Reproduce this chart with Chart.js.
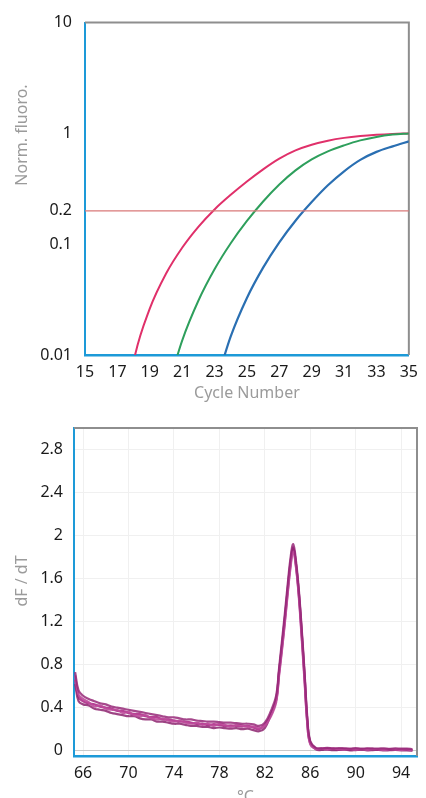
<!DOCTYPE html>
<html lang="en">
<head>
<meta charset="UTF-8">
<title>Amplification and melt curves</title>
<script src="https://cdn.jsdelivr.net/npm/chart.js"></script>
<style>
    html, body { margin: 0; padding: 0; background: #fff; overflow: hidden; }
    .chart-box { position: absolute; left: 0; width: 426px; }
    #ampBox { top: 0; height: 405px; }
    #meltBox { top: 405px; height: 410px; }
</style>
</head>
<body>
<div class="chart-box" id="ampBox"><canvas id="ampChart"></canvas></div>
<div class="chart-box" id="meltBox"><canvas id="meltChart"></canvas></div>
<script>
// --- amplification plot data ---
const cycles      = [17, 18, 19, 20, 21, 22, 23, 24, 25, 26, 27, 28, 29, 30, 31, 32, 33, 34, 35];
const sampleRed   = [0.001, 0.0087, 0.0262, 0.0541, 0.0929, 0.1435, 0.206, 0.279, 0.368, 0.474, 0.592, 0.703, 0.791, 0.859, 0.911, 0.948, 0.973, 0.990, 1.0];
const sampleGreen = [null, null, null, 0.0044, 0.0135, 0.0309, 0.0594, 0.102, 0.162, 0.243, 0.346, 0.464, 0.583, 0.689, 0.780, 0.865, 0.930, 0.975, 1.0];
const sampleBlue  = [null, null, null, null, null, null, 0.0050, 0.0147, 0.0327, 0.0614, 0.104, 0.163, 0.240, 0.340, 0.455, 0.577, 0.681, 0.764, 0.847];
const threshold   = 0.2;
const cycleTicks  = [15, 17, 19, 21, 23, 25, 27, 29, 31, 33, 35];
const fluoroTicks = [0.01, 0.1, 0.2, 1, 10];

// --- melt curve data ---
const temps = [65.3, 65.6, 66, 66.5, 67, 67.5, 68, 68.5, 69, 69.5, 70, 70.5, 71, 71.5, 72, 72.5, 73, 73.5, 74, 74.5,
    75, 75.5, 76, 76.5, 77, 77.5, 78, 78.5, 79, 79.5, 80, 80.5, 81, 81.5, 82, 82.5, 83, 83.25, 83.5, 83.75,
    84, 84.25, 84.5, 84.75, 85, 85.25, 85.5, 85.75, 86, 86.5, 87, 87.5, 88, 88.5, 89, 89.5, 90, 90.5, 91, 91.5,
    92, 92.5, 93, 93.5, 94, 94.5, 95];
const meltA = [0.66, 0.50, 0.46, 0.44, 0.43, 0.41, 0.40, 0.39, 0.37, 0.37, 0.35, 0.34, 0.34, 0.32, 0.31, 0.31, 0.29, 0.29, 0.28, 0.27,
    0.27, 0.26, 0.25, 0.25, 0.24, 0.245, 0.24, 0.23, 0.235, 0.23, 0.225, 0.23, 0.215, 0.20, 0.24, 0.33, 0.47, 0.72, 0.95, 1.2,
    1.47, 1.72, 1.88, 1.72, 1.45, 1.08, 0.68, 0.26, 0.07, 0.02, 0.015, 0.02, 0.015, 0.01, 0.015, 0.01, 0.012, 0.01, 0.015, 0.01,
    0.008, 0.012, 0.01, 0.008, 0.012, 0.01, 0.005];
const meltB = [0.70, 0.52, 0.48, 0.45, 0.41, 0.42, 0.39, 0.38, 0.38, 0.35, 0.36, 0.33, 0.32, 0.33, 0.30, 0.29, 0.30, 0.28, 0.27, 0.28,
    0.26, 0.25, 0.26, 0.24, 0.25, 0.23, 0.25, 0.24, 0.22, 0.24, 0.235, 0.22, 0.225, 0.21, 0.23, 0.31, 0.45, 0.69, 0.92, 1.17,
    1.44, 1.69, 1.85, 1.70, 1.42, 1.04, 0.64, 0.24, 0.06, 0.015, 0.02, 0.012, 0.018, 0.014, 0.01, 0.015, 0.008, 0.013, 0.01, 0.014,
    0.012, 0.007, 0.013, 0.01, 0.006, 0.012, 0.004];
const meltC = [0.62, 0.46, 0.43, 0.42, 0.39, 0.38, 0.37, 0.35, 0.34, 0.33, 0.32, 0.32, 0.30, 0.29, 0.29, 0.27, 0.27, 0.26, 0.25, 0.25,
    0.24, 0.23, 0.23, 0.22, 0.22, 0.21, 0.215, 0.21, 0.205, 0.21, 0.20, 0.205, 0.19, 0.18, 0.21, 0.33, 0.48, 0.73, 0.97, 1.22,
    1.49, 1.74, 1.89, 1.73, 1.46, 1.10, 0.70, 0.27, 0.08, 0.012, 0.006, 0.01, 0.004, 0.006, 0.009, 0.002, 0.005, 0.008, 0.003, 0.004,
    0.007, 0.002, 0.004, 0.006, 0.003, 0.002, 0.0];
const meltD = [0.73, 0.56, 0.51, 0.48, 0.46, 0.44, 0.43, 0.41, 0.40, 0.39, 0.38, 0.37, 0.36, 0.35, 0.34, 0.33, 0.32, 0.31, 0.31, 0.30,
    0.29, 0.29, 0.28, 0.275, 0.27, 0.27, 0.265, 0.26, 0.26, 0.255, 0.25, 0.25, 0.245, 0.23, 0.26, 0.36, 0.51, 0.76, 1.01, 1.26,
    1.53, 1.78, 1.92, 1.76, 1.49, 1.13, 0.73, 0.30, 0.09, 0.026, 0.022, 0.026, 0.02, 0.024, 0.021, 0.019, 0.023, 0.018, 0.022, 0.02,
    0.019, 0.021, 0.017, 0.02, 0.018, 0.019, 0.014];
const tempTicks = [66, 70, 74, 78, 82, 86, 90, 94];
const dfdtTicks = [0, 0.4, 0.8, 1.2, 1.6, 2, 2.4, 2.8];

const FONT = '"Noto Sans", sans-serif';
const AXIS_BLUE = '#1d9ad8';
const TITLE_GREY = '#9b9b9b';

function pts(xs, ys) {
    return xs.map((x, i) => ({ x: x, y: ys[i] }));
}

// vertical y-axis title, drawn where the original has it
const sideTitle = {
    id: 'sideTitle',
    afterDraw(chart, args, opts) {
        const ctx = chart.ctx;
        ctx.save();
        ctx.translate(opts.x, opts.y);
        ctx.rotate(-Math.PI / 2);
        ctx.font = '16px ' + FONT;
        ctx.fillStyle = TITLE_GREY;
        ctx.textAlign = 'center';
        ctx.textBaseline = 'middle';
        ctx.fillText(opts.text, 0, 0);
        ctx.restore();
    }
};

// grey top / right edges of the plot box
const frame = {
    id: 'frame',
    beforeDatasetsDraw(chart) {
        const { ctx, chartArea: a } = chart;
        ctx.save();
        ctx.strokeStyle = '#8e8e8e';
        ctx.lineWidth = 2;
        ctx.beginPath();
        ctx.moveTo(a.left, a.top);
        ctx.lineTo(a.right, a.top);
        ctx.lineTo(a.right, a.bottom);
        ctx.stroke();
        ctx.restore();
    }
};

const tickFont = { family: FONT, size: 16 };

function lineSet(data, color, width, smooth) {
    return {
        data: data,
        borderColor: color,
        borderWidth: width,
        pointRadius: 0,
        fill: false,
        cubicInterpolationMode: smooth ? 'monotone' : 'default',
        tension: 0.4
    };
}

new Chart(document.getElementById('ampChart'), {
    type: 'line',
    data: {
        datasets: [
            { data: [{ x: 15, y: threshold }, { x: 35, y: threshold }], borderColor: '#d97878', borderWidth: 1.3, pointRadius: 0 },
            lineSet(pts(cycles, sampleBlue), '#2a6fb2', 2.2, true),
            lineSet(pts(cycles, sampleGreen), '#2e9f5c', 2, true),
            lineSet(pts(cycles, sampleRed), '#e0306a', 2, true)
        ]
    },
    options: {
        responsive: true,
        maintainAspectRatio: false,
        animation: false,
        layout: { padding: { top: 22, right: 8, left: 0, bottom: 0 } },
        plugins: {
            legend: { display: false },
            tooltip: { enabled: false },
            sideTitle: { text: 'Norm. fluoro.', x: 22, y: 135 }
        },
        scales: {
            x: {
                type: 'linear',
                min: 15, max: 35,
                afterBuildTicks: s => { s.ticks = cycleTicks.map(v => ({ value: v })); },
                afterFit: s => { s.height = 50; },
                grid: { display: false, drawTicks: false },
                border: { color: AXIS_BLUE, width: 2.5 },
                ticks: { color: '#1a1a1a', font: tickFont, padding: 8, maxRotation: 0 },
                title: { display: true, text: 'Cycle Number', color: TITLE_GREY, font: { family: FONT, size: 16 }, padding: { top: 0, bottom: 2 } }
            },
            y: {
                type: 'logarithmic',
                min: 0.01, max: 10,
                afterBuildTicks: s => { s.ticks = fluoroTicks.map(v => ({ value: v })); },
                afterFit: s => { s.width = 85; },
                grid: { display: false, drawTicks: false },
                border: { color: AXIS_BLUE, width: 2 },
                ticks: { color: '#1a1a1a', font: tickFont, padding: 13, callback: v => String(v) }
            }
        }
    },
    plugins: [frame, sideTitle]
});

new Chart(document.getElementById('meltChart'), {
    type: 'line',
    data: {
        datasets: [
            lineSet(pts(temps, meltD), 'rgba(150, 40, 120, 0.85)', 2.2, false),
            lineSet(pts(temps, meltB), 'rgba(190, 75, 155, 0.9)', 2.2, false),
            lineSet(pts(temps, meltC), 'rgba(140, 35, 110, 0.85)', 2.2, false),
            lineSet(pts(temps, meltA), 'rgba(178, 55, 142, 0.95)', 2.4, false)
        ]
    },
    options: {
        responsive: true,
        maintainAspectRatio: false,
        animation: false,
        layout: { padding: { top: 23, right: 9, left: 0, bottom: 0 } },
        plugins: {
            legend: { display: false },
            tooltip: { enabled: false },
            sideTitle: { text: 'dF / dT', x: 22, y: 176 }
        },
        scales: {
            x: {
                type: 'linear',
                min: 65.2, max: 95.4,
                afterBuildTicks: s => { s.ticks = tempTicks.map(v => ({ value: v })); },
                afterFit: s => { s.height = 59; },
                grid: { color: '#f0f0f0', drawTicks: false },
                border: { color: AXIS_BLUE, width: 2.5 },
                ticks: { color: '#1a1a1a', font: tickFont, padding: 8, maxRotation: 0 },
                title: { display: true, text: '°C', color: TITLE_GREY, font: { family: FONT, size: 16 }, padding: { top: 0, bottom: 8 } }
            },
            y: {
                min: -0.05, max: 3.0,
                afterBuildTicks: s => { s.ticks = dfdtTicks.map(v => ({ value: v })); },
                afterFit: s => { s.width = 74; },
                grid: { color: c => (c.tick && c.tick.value === 0 ? '#c9c9c9' : '#f0f0f0'), drawTicks: false },
                border: { color: AXIS_BLUE, width: 2 },
                ticks: { color: '#1a1a1a', font: tickFont, padding: 11, callback: v => String(Number(v.toFixed(1))) }
            }
        }
    },
    plugins: [frame, sideTitle]
});
</script>
</body>
</html>
